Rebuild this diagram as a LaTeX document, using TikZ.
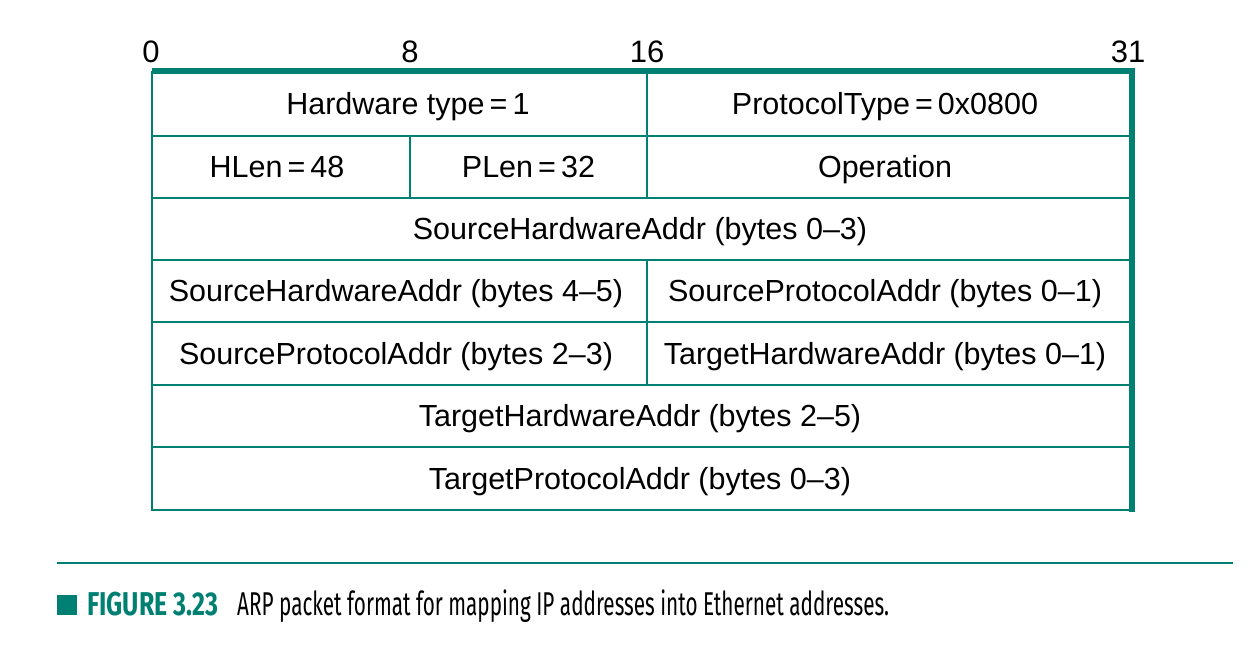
\documentclass[tikz,border=0pt]{standalone}
\usepackage{fontspec}
\usepackage{graphicx}
\setmainfont{Liberation Sans}
\newfontfamily\capfont{Fira Sans}
\definecolor{teal}{RGB}{0,128,114}
\tikzset{
  grid/.style={draw=teal, line width=2pt},
  frame/.style={draw=teal, line width=5.5pt, line join=miter},
  cell/.style={font=\fontsize{30.5}{36}\selectfont, text height=22pt, text depth=0pt, inner sep=0pt, anchor=center},
  bitnum/.style={font=\fontsize{31}{36}\selectfont, inner sep=0pt, anchor=base},
}
\begin{document}
\begin{tikzpicture}[x=1pt,y=-1pt]
\useasboundingbox (0,0) rectangle (1254,660);
% row boundaries and column positions
\def\xl{152}\def\xe{410}\def\xm{647}\def\xr{1132}
% thin grid
\foreach \yy in {136,198,260,322,385,447,510}
  \draw[grid] (\xl,\yy) -- (\xr,\yy);
\draw[grid] (\xl,71) -- (\xl,511);
\draw[grid] (\xm,71) -- (\xm,136);
\draw[grid] (\xe,136) -- (\xe,198);
\draw[grid] (\xm,136) -- (\xm,198);
\draw[grid] (\xm,260) -- (\xm,385);
% heavy top and right edges
\draw[frame] (\xl,71) -- (\xr,71) -- (\xr,512);
% bit numbers
\node[bitnum] (b0)  at (151,63)  {0};
\node[bitnum] (b8)  at (410,63)  {8};
\node[bitnum] (b16) at (647,63)  {16};
\node[bitnum] (b31) at (1128,63) {31};
% fields
\node[cell] (hwtype) at (408,104) {Hardware type\,=\,1};
\node[cell] (ptype)  at (885,104) {ProtocolType\,=\,0x0800};
\node[cell] (hlen)   at (277,167)   {HLen\,=\,48};
\node[cell] (plen)   at (528.5,167) {PLen\,=\,32};
\node[cell] (oper)   at (885,167) {Operation};
\node[cell] (sha1)   at (640,229)   {SourceHardwareAddr (bytes 0--3)};
\node[cell] (sha2)   at (396,291) {SourceHardwareAddr (bytes 4--5)};
\node[cell] (spa1)   at (885,291) {SourceProtocolAddr (bytes 0--1)};
\node[cell] (spa2)   at (396,353.5) {SourceProtocolAddr (bytes 2--3)};
\node[cell] (tha1)   at (885,353.5) {TargetHardwareAddr (bytes 0--1)};
\node[cell] (tha2)   at (640,416)   {TargetHardwareAddr (bytes 2--5)};
\node[cell] (tpa)    at (640,478.5) {TargetProtocolAddr (bytes 0--3)};
% caption
\draw[draw=teal, line width=2pt] (57,563) -- (1233,563);
\fill[teal] (57,595) rectangle (77,615);
\node[inner sep=0pt, anchor=base west, text=teal] (fignum) at (87,615)
  {\resizebox{131pt}{\height}{\capfont\fontsize{33}{38}\selectfont\bfseries FIGURE 3.23}};
\node[inner sep=0pt, anchor=base west] (captext) at (237,615)
  {\resizebox{652pt}{\height}{\capfont\fontsize{33}{38}\selectfont ARP packet format for mapping IP addresses into Ethernet addresses.}};
\end{tikzpicture}
\end{document}
